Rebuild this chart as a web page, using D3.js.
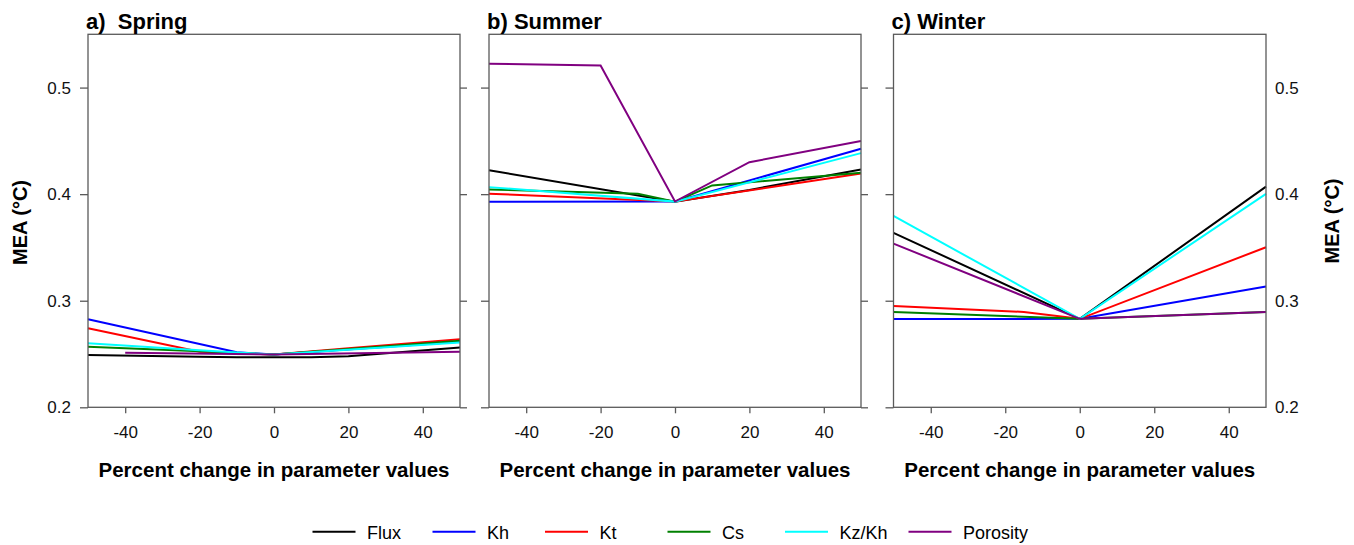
<!DOCTYPE html>
<html>
<head>
    <meta charset="utf-8">
    <title>MEA sensitivity by season</title>
    <script src="https://d3js.org/d3.v7.min.js"></script>
    <style>
        body { margin: 0; background: #fff; }
        text { font-family: "Liberation Sans", Arial, sans-serif; }
    </style>
</head>
<body>
    <div id="chart"></div>
    <script>

        // percent change in parameter values (x samples), null = no sample for that series
        var percent = [-50, -40, -20, -15, -10, 0, 10, 20, 50];

        var seriesNames = ["Flux", "Kh", "Kt", "Cs", "Kz/Kh", "Porosity"];
        var seriesColors = ["#000000", "#0000ff", "#ff0000", "#008000", "#00ffff", "#800080"];

        var springValues = [
            [0.249, null, 0.2475, null, 0.247, 0.247, 0.247, 0.248, 0.256],
            [0.2826, null, null, null, 0.2516, 0.2495, null, null, 0.2615],
            [0.2742, null, 0.2522, null, null, 0.2495, null, 0.2555, 0.2638],
            [0.2569, null, 0.2525, null, 0.251, 0.2495, null, null, 0.2625],
            [0.2601, null, 0.2535, null, 0.2515, 0.2495, null, null, 0.2607],
            [null, 0.2513, null, null, null, 0.2495, null, null, 0.2522]
        ];

        var summerValues = [
            [0.4225, null, null, null, null, 0.393, null, 0.404, 0.4232],
            [0.3929, null, null, null, null, 0.393, null, null, 0.4426],
            [0.4004, null, null, null, null, 0.393, null, null, 0.4194],
            [0.4044, null, null, null, 0.4004, 0.393, 0.4082, null, 0.420],
            [0.4066, null, null, null, null, 0.393, null, null, 0.4385],
            [0.5224, null, 0.5208, null, null, 0.3931, null, 0.430, 0.4498]
        ];

        var winterValues = [
            [0.3637, null, null, null, null, 0.283, null, null, 0.4071],
            [0.2829, null, null, null, null, 0.283, null, null, 0.3133],
            [0.2951, null, null, 0.2895, null, 0.283, null, null, 0.3502],
            [0.2895, null, null, null, null, 0.283, null, null, 0.2895],
            [0.3796, null, null, null, null, 0.283, null, null, 0.4003],
            [0.3536, null, null, null, null, 0.283, null, null, 0.2895]
        ];

        var xTicks = [-40, -20, 0, 20, 40];
        var yTicks = [0.2, 0.3, 0.4, 0.5];

        var panels = [
            { title: "a)  Spring", values: springValues, left: 88, right: 460, leftLabels: true, rightLabels: false, rightTicks: true },
            { title: "b) Summer", values: summerValues, left: 489, right: 861, leftLabels: false, rightLabels: false, rightTicks: true },
            { title: "c) Winter", values: winterValues, left: 893.5, right: 1266, leftLabels: false, rightLabels: true, rightTicks: false }
        ];

        var plotTop = 34.3, plotBottom = 407.3;
        var axisColor = "#5a5a5a";

        var svg = d3.select("#chart")
            .append("svg")
            .attr("width", 1354)
            .attr("height", 545);

        var yScale = d3.scaleLinear().domain([0.2, 0.55]).range([plotBottom, plotTop]);

        function styleAxis(ax) {
            ax.select(".domain").remove();
            ax.selectAll("line").attr("stroke", axisColor).attr("stroke-width", 1.3);
            ax.selectAll("text")
                .style("font-size", "17px")
                .style("font-family", "Liberation Sans, Arial, sans-serif")
                .attr("fill", "#111");
        }

        panels.forEach(function(p) {
            var xScale = d3.scaleLinear().domain([-50, 50]).range([p.left, p.right]);
            var g = svg.append("g");

            // lines
            var line = d3.line()
                .x(function(d) { return xScale(d[0]); })
                .y(function(d) { return yScale(d[1]); });

            p.values.forEach(function(vals, i) {
                var pts = percent.map(function(x, j) { return [x, vals[j]]; })
                    .filter(function(d) { return d[1] != null; });
                g.append("path")
                    .datum(pts)
                    .attr("fill", "none")
                    .attr("stroke", seriesColors[i])
                    .attr("stroke-width", 2)
                    .attr("d", line);
            });

            // frame
            g.append("rect")
                .attr("x", p.left)
                .attr("y", plotTop)
                .attr("width", p.right - p.left)
                .attr("height", plotBottom - plotTop)
                .attr("fill", "none")
                .attr("stroke", axisColor)
                .attr("stroke-width", 1.3);

            // x axis
            var xAxis = g.append("g")
                .attr("transform", `translate(0, ${plotBottom})`)
                .call(d3.axisBottom(xScale).tickValues(xTicks).tickSize(6).tickPadding(13)
                    .tickFormat(function(d) { return String(d); }));
            styleAxis(xAxis);

            // left y axis
            var yLeft = g.append("g")
                .attr("transform", `translate(${p.left}, 0)`)
                .call(d3.axisLeft(yScale).tickValues(yTicks).tickSize(8).tickPadding(9)
                    .tickFormat(p.leftLabels ? d3.format(".1f") : ""));
            styleAxis(yLeft);

            // right y axis
            var yRight = g.append("g")
                .attr("transform", `translate(${p.right}, 0)`)
                .call(d3.axisRight(yScale).tickValues(yTicks).tickSize(p.rightTicks ? 7 : 0).tickPadding(p.rightTicks ? 2 : 9)
                    .tickFormat(p.rightLabels ? d3.format(".1f") : ""));
            styleAxis(yRight);

            // panel title
            g.append("text")
                .attr("x", p.left - 2)
                .attr("y", 29)
                .attr("xml:space", "preserve")
                .style("white-space", "pre")
                .style("font-size", "22px")
                .style("font-weight", "bold")
                .text(p.title);

            // x label
            g.append("text")
                .attr("x", (p.left + p.right) / 2)
                .attr("y", 477)
                .style("text-anchor", "middle")
                .style("font-size", "20.5px")
                .style("font-weight", "bold")
                .text("Percent change in parameter values");
        });

        // y labels
        svg.append("text")
            .attr("transform", "translate(26.5, 222.5) rotate(-90)")
            .style("text-anchor", "middle")
            .style("font-size", "20px")
            .style("font-weight", "bold")
            .text("MEA (°C)");

        svg.append("text")
            .attr("transform", "translate(1338.5, 221) rotate(-90)")
            .style("text-anchor", "middle")
            .style("font-size", "20px")
            .style("font-weight", "bold")
            .text("MEA (°C)");

        // legend
        var legendX = [312.5, 432.5, 545, 667.5, 785, 908.5];
        var legend = svg.append("g");
        seriesNames.forEach(function(name, i) {
            legend.append("line")
                .attr("x1", legendX[i])
                .attr("x2", legendX[i] + 43)
                .attr("y1", 531.7)
                .attr("y2", 531.7)
                .attr("stroke", seriesColors[i])
                .attr("stroke-width", 2);
            legend.append("text")
                .attr("x", legendX[i] + 54.5)
                .attr("y", 539)
                .style("font-size", "18px")
                .text(name);
        });

    </script>
</body>
</html>
